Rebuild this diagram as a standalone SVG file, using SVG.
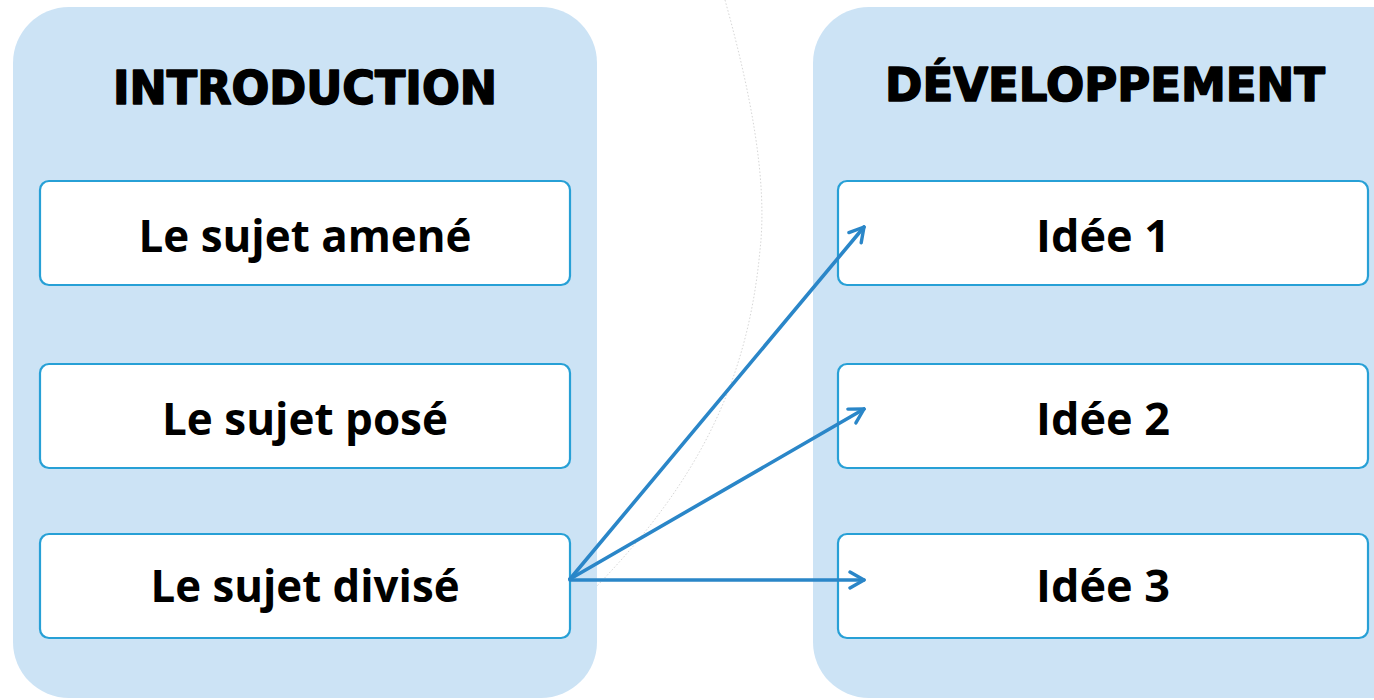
<svg xmlns="http://www.w3.org/2000/svg" width="1374" height="700" viewBox="0 0 1374 700">
<style>
.panel{fill:#cce3f5}
.box{fill:#ffffff;stroke:#27a0d6;stroke-width:2.2}
.title{font-family:"DejaVu Sans","Liberation Sans",sans-serif;font-weight:bold;font-size:46px;fill:#000;stroke:#000;stroke-width:1.6;stroke-linejoin:round;text-anchor:middle}
.lbl{font-family:"Open Sans","Liberation Sans",sans-serif;font-weight:bold;font-size:45px;fill:#000;text-anchor:middle}
.conn{fill:none;stroke:#2a86c8;stroke-width:3.6;stroke-linecap:round}
</style>
<defs>
<marker id="arr" viewBox="0 0 20 20" refX="18" refY="10" markerWidth="20" markerHeight="20" markerUnits="userSpaceOnUse" orient="auto">
<path d="M4,2 L18,10 L4,18" fill="none" stroke="#2a86c8" stroke-width="3.4" stroke-linecap="round" stroke-linejoin="round"/>
</marker>
</defs>
<rect width="1374" height="700" fill="#ffffff"/>
<path d="M725,0 C750,90 768,180 760,250 C748,380 700,480 595,588" fill="none" stroke="#d6d6d6" stroke-width="1" stroke-dasharray="1.5 2"/>
<g id="introduction">
<rect class="panel" x="13" y="7" width="584" height="691" rx="56" ry="56"/>
<text class="title" x="305" y="104" textLength="384" lengthAdjust="spacingAndGlyphs">INTRODUCTION</text>
</g>
<g id="developpement">
<rect class="panel" x="813" y="7" width="620" height="691" rx="56" ry="56"/>
<text class="title" x="1105" y="101" textLength="440" lengthAdjust="spacingAndGlyphs">DÉVELOPPEMENT</text>
</g>
<g id="sujet-amene">
<rect class="box" x="40" y="181" width="530" height="104" rx="9"/>
<text class="lbl" x="305" y="252" textLength="333" lengthAdjust="spacingAndGlyphs">Le sujet amené</text>
</g>
<g id="sujet-pose">
<rect class="box" x="40" y="364" width="530" height="104" rx="9"/>
<text class="lbl" x="305" y="435" textLength="286" lengthAdjust="spacingAndGlyphs">Le sujet posé</text>
</g>
<g id="sujet-divise">
<rect class="box" x="40" y="534" width="530" height="104" rx="9"/>
<text class="lbl" x="305" y="602" textLength="309" lengthAdjust="spacingAndGlyphs">Le sujet divisé</text>
</g>
<g id="idee-1">
<rect class="box" x="838" y="181" width="530" height="104" rx="9"/>
<text class="lbl" x="1103" y="252" textLength="134" lengthAdjust="spacingAndGlyphs">Idée 1</text>
</g>
<g id="idee-2">
<rect class="box" x="838" y="364" width="530" height="104" rx="9"/>
<text class="lbl" x="1103" y="435" textLength="134" lengthAdjust="spacingAndGlyphs">Idée 2</text>
</g>
<g id="idee-3">
<rect class="box" x="838" y="534" width="530" height="104" rx="9"/>
<text class="lbl" x="1103" y="602" textLength="134" lengthAdjust="spacingAndGlyphs">Idée 3</text>
</g>
<g id="connectors">
<line class="conn" x1="570" y1="579" x2="864" y2="227" marker-end="url(#arr)"/>
<line class="conn" x1="570" y1="579" x2="864" y2="409" marker-end="url(#arr)"/>
<line class="conn" x1="570" y1="580" x2="864" y2="580" marker-end="url(#arr)"/>
</g>
</svg>
